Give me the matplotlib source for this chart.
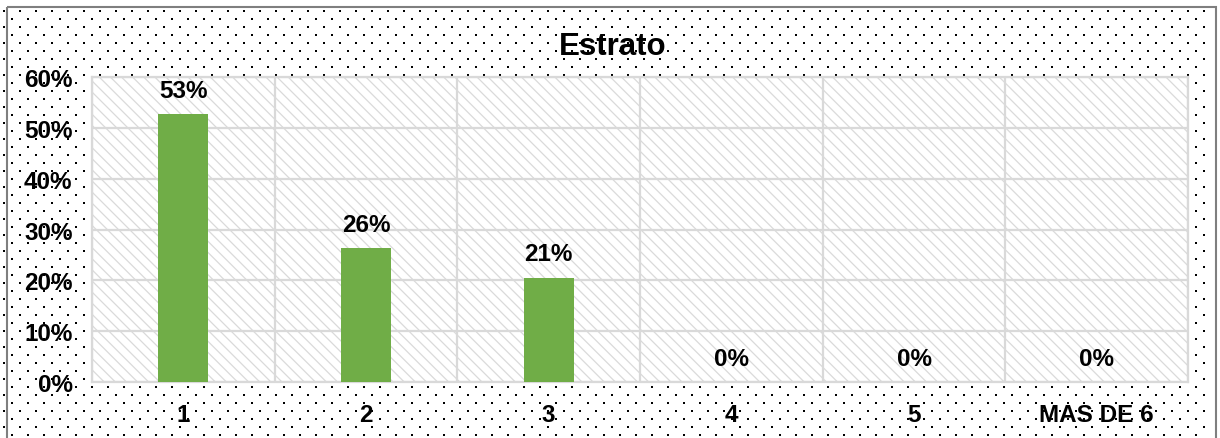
import matplotlib.pyplot as plt
import numpy as np
from matplotlib.patches import Rectangle
from matplotlib.ticker import PercentFormatter

plt.rcParams["font.family"] = ["Liberation Sans", "DejaVu Sans"]
plt.rcParams["font.weight"] = "bold"
plt.rcParams["hatch.linewidth"] = 0.9

categories = ["1", "2", "3", "4", "5", "MAS DE 6"]
values = [0.527, 0.263, 0.205, 0.0, 0.0, 0.0]
labels = ["53%", "26%", "21%", "0%", "0%", "0%"]
title = "Estrato"

W, H = 1220, 439
fig = plt.figure(figsize=(W / 100, H / 100), dpi=100)

# dotted background + frame
bg = fig.add_axes([0, 0, 1, 1], zorder=-5)
bg.set_xlim(0, W)
bg.set_ylim(H, 0)
bg.axis("off")
xs, ys = [], []
for k, yy in enumerate(np.arange(12, H, 8)):
    off = 4 if k % 2 == 0 else 12
    for xx in np.arange(off, W - 8, 16):
        xs.append(xx)
        ys.append(yy)
bg.scatter(xs, ys, s=2.0, marker="s", color="black", linewidths=0)
bg.add_patch(Rectangle((7, 8), 1209, H + 10, fill=False,
                       edgecolor="#7f7f7f", lw=1.5))

ax = fig.add_axes([92 / W, 1 - 383 / H, (1188 - 92) / W, (383 - 78) / H])
ax.set_facecolor("none")
ax.add_patch(Rectangle((0, 0), 1, 1, transform=ax.transAxes, facecolor="white",
                       edgecolor="#dadada", hatch="\\\\\\", lw=0, zorder=0))

x = np.arange(len(categories))
bars = ax.bar(x, values, width=0.273, color="#70AD47", zorder=3)

for b, lab in zip(bars, labels):
    ax.annotate(lab, (b.get_x() + b.get_width() / 2, b.get_height()),
                xytext=(0, 12.5), textcoords="offset points", ha="center",
                va="baseline", fontsize=17.5, fontweight="bold")

ax.set_xlim(-0.5, len(categories) - 0.5)
ax.set_ylim(0, 0.6)
ax.set_yticks(np.arange(0, 0.61, 0.1))
ax.yaxis.set_major_formatter(PercentFormatter(1.0, decimals=0))
ax.set_xticks(x)
ax.set_xticklabels(categories)
ax.set_xticks(np.arange(-0.5, len(categories), 1), minor=True)

ax.grid(axis="y", which="major", color="#d9d9d9", lw=1.6, zorder=1)
ax.grid(axis="x", which="minor", color="#d9d9d9", lw=1.6, zorder=1)
ax.set_axisbelow(True)
ax.tick_params(which="both", length=0)
ax.tick_params(axis="y", pad=14, labelsize=17.5)
ax.tick_params(axis="x", pad=15, labelsize=17.5)
for s in ax.spines.values():
    s.set_color("#d9d9d9")
    s.set_linewidth(1.6)

fig.text(613 / W, 1 - 47 / H, title, ha="center", va="center",
         fontsize=22.5, fontweight="bold")

fig.savefig("out.png", dpi=100)
